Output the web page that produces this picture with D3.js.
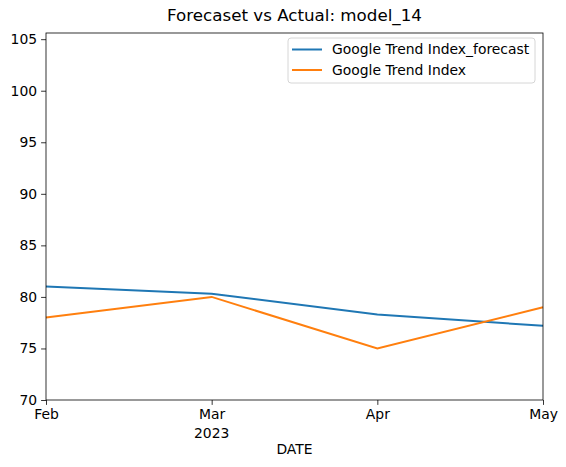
<!doctype html>
<html>
<head>
    <meta charset="UTF-8">
    <title>Forecaset vs Actual: model_14</title>
    <script src="https://cdn.jsdelivr.net/npm/d3@7"></script>
    <style>
        body { margin: 0; background: #fff; }
        text { font-family: "DejaVu Sans", sans-serif; fill: #000; }
    </style>
</head>
<body>
    <div id="chart"></div>
    <script>
        var months = ["Feb", "Mar", "Apr", "May"];
        var forecast = [81.0, 80.3, 78.3, 77.2];
        var actual = [78, 80, 75, 79];
        var yTicks = [70, 75, 80, 85, 90, 95, 100, 105];

        var width = 566, height = 467;
        var margin = { left: 46, right: 23, top: 33, bottom: 67 };

        var svg = d3.select("#chart").append("svg")
            .attr("width", width)
            .attr("height", height);

        var x = d3.scalePoint()
            .domain(months)
            .range([margin.left, width - margin.right]);

        var y = d3.scaleLinear()
            .domain([70, 105.6])
            .range([height - margin.bottom, margin.top]);

        // title
        svg.append("text")
            .attr("x", (margin.left + width - margin.right) / 2)
            .attr("y", 21)
            .attr("text-anchor", "middle")
            .style("font-size", "16.7px")
            .text("Forecaset vs Actual: model_14");

        // axes
        var xAxis = svg.append("g")
            .attr("transform", "translate(0," + (height - margin.bottom) + ")")
            .call(d3.axisBottom(x).tickSize(4.9).tickPadding(4));
        var yAxis = svg.append("g")
            .attr("transform", "translate(" + margin.left + ",0)")
            .call(d3.axisLeft(y).tickValues(yTicks).tickSize(4.9).tickPadding(4));

        [xAxis, yAxis].forEach(function (g) {
            g.select(".domain").remove();
            g.selectAll("text").style("font-size", "13.9px");
            g.selectAll("line").attr("stroke", "#000").attr("stroke-width", 0.8);
        });

        svg.append("text")
            .attr("x", x("Mar"))
            .attr("y", height - margin.bottom + 38)
            .attr("text-anchor", "middle")
            .style("font-size", "13.9px")
            .text("2023");

        svg.append("text")
            .attr("x", (margin.left + width - margin.right) / 2)
            .attr("y", height - margin.bottom + 54)
            .attr("text-anchor", "middle")
            .style("font-size", "13.9px")
            .text("DATE");

        // lines
        var line = d3.line()
            .x(function (d, i) { return x(months[i]); })
            .y(function (d) { return y(d); });

        svg.append("path")
            .datum(forecast)
            .attr("d", line)
            .attr("fill", "none")
            .attr("stroke", "#1f77b4")
            .attr("stroke-width", 2);

        svg.append("path")
            .datum(actual)
            .attr("d", line)
            .attr("fill", "none")
            .attr("stroke", "#ff7f0e")
            .attr("stroke-width", 2);

        // frame
        svg.append("rect")
            .attr("x", margin.left)
            .attr("y", margin.top)
            .attr("width", width - margin.left - margin.right)
            .attr("height", height - margin.top - margin.bottom)
            .attr("fill", "none")
            .attr("stroke", "#000")
            .attr("stroke-width", 0.8);

        // legend
        var legend = svg.append("g").attr("transform", "translate(288,38)");
        legend.append("rect")
            .attr("width", 247)
            .attr("height", 45)
            .attr("rx", 3)
            .attr("fill", "#fff")
            .attr("fill-opacity", 0.8)
            .attr("stroke", "#ccc")
            .attr("stroke-width", 0.8);

        var series = [
            { name: "Google Trend Index_forecast", color: "#1f77b4" },
            { name: "Google Trend Index", color: "#ff7f0e" }
        ];
        series.forEach(function (s, i) {
            var row = legend.append("g").attr("transform", "translate(0," + (11.5 + i * 20.5) + ")");
            row.append("line")
                .attr("x1", 4).attr("x2", 34)
                .attr("stroke", s.color).attr("stroke-width", 2);
            row.append("text")
                .attr("x", 44)
                .attr("dy", "0.35em")
                .style("font-size", "13.9px")
                .text(s.name);
        });
    </script>
</body>
</html>
